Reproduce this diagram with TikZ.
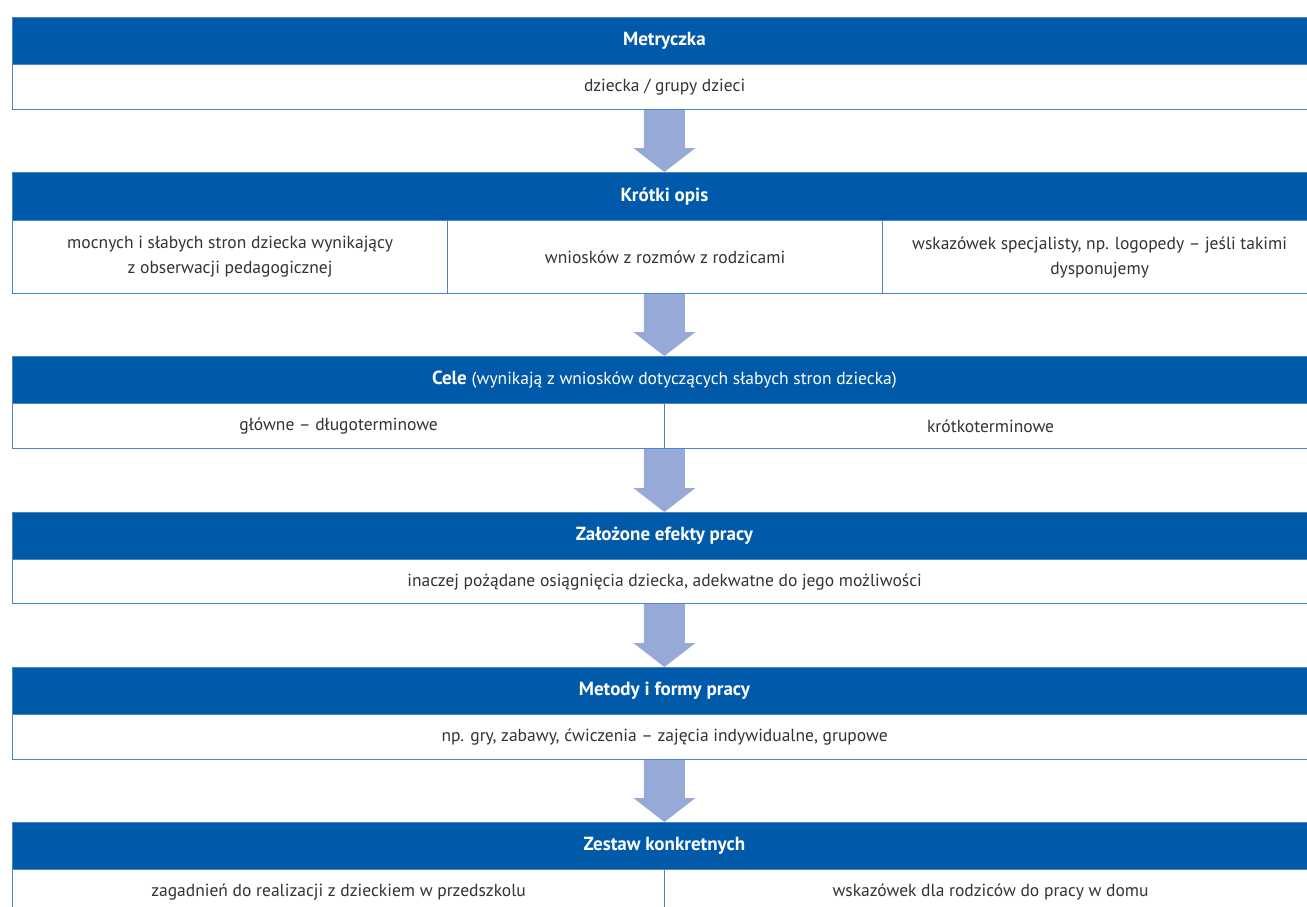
\documentclass[tikz,border=0pt]{standalone}
\usepackage{fontspec}
\setmainfont{PT Sans}
\usetikzlibrary{calc}
\definecolor{hdrblue}{HTML}{005AA9}
\definecolor{lineblue}{HTML}{4A86C4}
\definecolor{arrowfill}{HTML}{97A9D6}
\definecolor{txtgray}{HTML}{333333}
\newcommand\hdrreg{\fontsize{17.5}{21}\selectfont\mdseries}
\tikzset{
  hdr/.style={rectangle, fill=hdrblue, draw=lineblue, line width=0.8pt, anchor=north west,
    inner sep=0pt, text=white, font=\fontsize{19}{21}\selectfont\bfseries},
  cell/.style={rectangle, fill=white, draw=lineblue, line width=1.2pt, anchor=north west,
    inner sep=0pt, text=txtgray, align=center, font=\fontsize{17.5}{25}\selectfont},
  blockarrow/.style={fill=arrowfill}
}
\newcommand\flowarrow[2]{%
  \fill[blockarrow] ($(#1)+(-20.5,0)$) -- ($(#2)+(-20.5,-24)$) -- ($(#2)+(-31,-24)$) --
    (#2) -- ($(#2)+(31,-24)$) -- ($(#2)+(20.5,-24)$) -- ($(#1)+(20.5,0)$) -- cycle;}
\begin{document}
\begin{tikzpicture}[x=1pt,y=-1pt]
\clip (0,0) rectangle (1307,907);
\fill[white] (0,0) rectangle (1307,907);
% Box 1
\node[hdr, minimum width=1304pt, minimum height=47pt] (h1) at (12,17) {Metryczka};
\node[cell, minimum width=1304pt, minimum height=45pt] (c1) at (12,64) {dziecka / grupy dzieci};
% Box 2
\node[hdr, minimum width=1304pt, minimum height=48pt] (h2) at (12,172) {Krótki opis};
\node[cell, minimum width=435pt, minimum height=73pt] (c2a) at (12,220) {mocnych i słabych stron dziecka wynikający\\z obserwacji pedagogicznej};
\node[cell, minimum width=435pt, minimum height=73pt] (c2b) at (447,220) {wniosków z rozmów z rodzicami};
\node[cell, minimum width=434pt, minimum height=73pt] (c2c) at (882,220) {wskazówek specjalisty, np. logopedy – jeśli takimi\\dysponujemy};
% Box 3
\node[hdr, minimum width=1304pt, minimum height=47pt] (h3) at (12,356) {Cele {\hdrreg(wynikają z wniosków dotyczących słabych stron dziecka)}};
\node[cell, minimum width=652pt, minimum height=45pt] (c3a) at (12,403) {główne – długoterminowe};
\node[cell, minimum width=652pt, minimum height=45pt] (c3b) at (664,403) {krótkoterminowe};
% Box 4
\node[hdr, minimum width=1304pt, minimum height=47pt] (h4) at (12,512) {Założone efekty pracy};
\node[cell, minimum width=1304pt, minimum height=44pt] (c4) at (12,559) {inaczej pożądane osiągnięcia dziecka, adekwatne do jego możliwości};
% Box 5
\node[hdr, minimum width=1304pt, minimum height=47pt] (h5) at (12,667) {Metody i formy pracy};
\node[cell, minimum width=1304pt, minimum height=45pt] (c5) at (12,714) {np. gry, zabawy, ćwiczenia – zajęcia indywidualne, grupowe};
% Box 6
\node[hdr, minimum width=1304pt, minimum height=47pt] (h6) at (12,822) {Zestaw konkretnych};
\node[cell, minimum width=652pt, minimum height=45pt] (c6a) at (12,869) {zagadnień do realizacji z dzieckiem w przedszkolu};
\node[cell, minimum width=652pt, minimum height=45pt] (c6b) at (664,869) {wskazówek dla rodziców do pracy w domu};
% arrow anchors
\coordinate (s1) at (h1.center |- c1.south);
\coordinate (s2) at (h2.center |- c2b.south);
\coordinate (s3) at (h3.center |- c3a.south);
\coordinate (s4) at (h4.center |- c4.south);
\coordinate (s5) at (h5.center |- c5.south);
\flowarrow{s1}{h2.north}
\flowarrow{s2}{h3.north}
\flowarrow{s3}{h4.north}
\flowarrow{s4}{h5.north}
\flowarrow{s5}{h6.north}
\end{tikzpicture}
\end{document}
